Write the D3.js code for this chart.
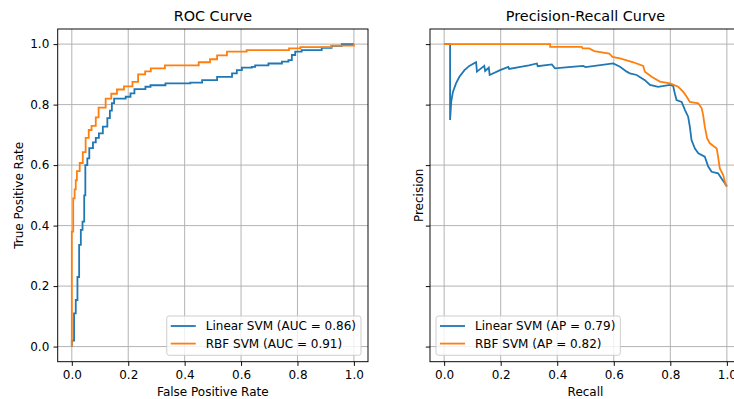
<!DOCTYPE html>
<html>
<head>
<meta charset="utf-8">
<script src="https://cdn.jsdelivr.net/npm/d3@7"></script>
<style>
  body { margin: 0; background: #fff; }
  svg { display: block; font-family: "DejaVu Sans", sans-serif; }
</style>
</head>
<body>
<svg id="chart" width="734" height="399"></svg>
<script>
// ROC corners (drawn as steps: up first, then right)
const rocLinearFpr = [0, 0.008, 0.014, 0.02, 0.026, 0.032, 0.038, 0.044, 0.048, 0.055, 0.062, 0.075, 0.085, 0.096, 0.11, 0.126, 0.135, 0.142, 0.15, 0.191, 0.208, 0.222, 0.261, 0.279, 0.332, 0.42, 0.462, 0.515, 0.568, 0.585, 0.603, 0.638, 0.65, 0.697, 0.745, 0.768, 0.78, 0.792, 0.815, 0.886, 0.921, 0.957, 1.0];
const rocLinearTpr = [0, 0.02, 0.11, 0.154, 0.23, 0.336, 0.386, 0.413, 0.5, 0.6, 0.622, 0.656, 0.675, 0.69, 0.705, 0.727, 0.755, 0.78, 0.805, 0.82, 0.826, 0.837, 0.851, 0.859, 0.864, 0.87, 0.873, 0.881, 0.892, 0.903, 0.914, 0.922, 0.925, 0.93, 0.936, 0.942, 0.947, 0.964, 0.975, 0.98, 0.988, 0.994, 1.0];
const rocRbfFpr = [0, 0.005, 0.01, 0.014, 0.018, 0.028, 0.039, 0.049, 0.06, 0.07, 0.085, 0.095, 0.12, 0.14, 0.16, 0.185, 0.215, 0.235, 0.26, 0.28, 0.33, 0.45, 0.49, 0.515, 0.55, 0.62, 0.77, 0.81, 0.92, 1.0, 1.0];
const rocRbfTpr = [0, 0.38, 0.49, 0.52, 0.55, 0.58, 0.607, 0.643, 0.69, 0.716, 0.73, 0.758, 0.79, 0.82, 0.836, 0.85, 0.86, 0.875, 0.9, 0.91, 0.92, 0.93, 0.94, 0.95, 0.963, 0.975, 0.98, 0.986, 0.99, 0.995, 1.0];

// precision-recall points
const prLinearRecall = [0, 0.021, 0.021, 0.025, 0.031, 0.042, 0.054, 0.072, 0.089, 0.113, 0.116, 0.142, 0.145, 0.158, 0.161, 0.198, 0.227, 0.23, 0.27, 0.3, 0.328, 0.331, 0.381, 0.392, 0.44, 0.492, 0.5, 0.598, 0.622, 0.646, 0.657, 0.681, 0.71, 0.728, 0.757, 0.799, 0.81, 0.816, 0.822, 0.84, 0.852, 0.863, 0.869, 0.875, 0.887, 0.899, 0.922, 0.934, 0.946, 0.969, 0.981, 0.993, 1.0];
const prLinearPrecision = [1, 1, 0.749, 0.809, 0.842, 0.87, 0.892, 0.914, 0.928, 0.94, 0.909, 0.928, 0.911, 0.922, 0.898, 0.914, 0.925, 0.918, 0.925, 0.93, 0.936, 0.927, 0.933, 0.92, 0.924, 0.928, 0.924, 0.936, 0.925, 0.909, 0.903, 0.898, 0.881, 0.865, 0.859, 0.865, 0.862, 0.837, 0.815, 0.809, 0.782, 0.76, 0.727, 0.683, 0.655, 0.639, 0.628, 0.595, 0.578, 0.573, 0.556, 0.54, 0.529];
const prRbfRecall = [0, 0.375, 0.375, 0.487, 0.49, 0.513, 0.531, 0.584, 0.595, 0.622, 0.669, 0.704, 0.71, 0.734, 0.763, 0.799, 0.828, 0.846, 0.858, 0.869, 0.899, 0.911, 0.916, 0.922, 0.93, 0.94, 0.964, 0.969, 0.975, 0.987, 0.996, 1.0];
const prRbfPrecision = [1, 1, 0.991, 0.991, 0.986, 0.986, 0.977, 0.969, 0.958, 0.953, 0.94, 0.928, 0.909, 0.892, 0.876, 0.87, 0.859, 0.842, 0.826, 0.809, 0.804, 0.788, 0.766, 0.727, 0.689, 0.672, 0.655, 0.628, 0.589, 0.567, 0.534, 0.53];

const ticks = [0, 0.2, 0.4, 0.6, 0.8, 1.0];
const rocLabels = ["Linear SVM (AUC = 0.86)", "RBF SVM (AUC = 0.91)"];
const prLabels = ["Linear SVM (AP = 0.79)", "RBF SVM (AP = 0.82)"];
const colors = ["#1f77b4", "#ff7f0e"];

const svg = d3.select("#chart");
const plotTop = 29, plotBottom = 361.7;
const fs = 12;
const y = d3.scaleLinear().domain([-0.05, 1.05]).range([plotBottom, plotTop]);

const zip = (a, b) => a.map((v, i) => [v, b[i]]);

const panels = [
  {
    left: 57.7, right: 368, title: "ROC Curve",
    xlabel: "False Positive Rate", ylabel: "True Positive Rate", ylabelX: 23,
    yTickLabels: true, curve: d3.curveStepBefore,
    series: [zip(rocLinearFpr, rocLinearTpr), zip(rocRbfFpr, rocRbfTpr)],
    labels: rocLabels, legendSide: "right"
  },
  {
    left: 430, right: 741, title: "Precision-Recall Curve",
    xlabel: "Recall", ylabel: "Precision", ylabelX: 423,
    yTickLabels: false, curve: d3.curveLinear,
    series: [zip(prLinearRecall, prLinearPrecision), zip(prRbfRecall, prRbfPrecision)],
    labels: prLabels, legendSide: "left"
  }
];

panels.forEach(p => {
  const x = d3.scaleLinear().domain([-0.05, 1.05]).range([p.left, p.right]);
  const g = svg.append("g");

  // grid
  g.append("g").selectAll("line").data(ticks).enter().append("line")
    .attr("x1", d => x(d)).attr("x2", d => x(d)).attr("y1", plotTop).attr("y2", plotBottom)
    .attr("stroke", "#b0b0b0").attr("stroke-width", 0.96);
  g.append("g").selectAll("line").data(ticks).enter().append("line")
    .attr("x1", p.left).attr("x2", p.right).attr("y1", d => y(d)).attr("y2", d => y(d))
    .attr("stroke", "#b0b0b0").attr("stroke-width", 0.96);

  // curves
  const line = d3.line().x(d => x(d[0])).y(d => y(d[1])).curve(p.curve);
  p.series.forEach((s, i) => {
    g.append("path").attr("d", line(s))
      .attr("fill", "none").attr("stroke", colors[i]).attr("stroke-width", 1.8);
  });

  // axes
  const xAxis = g.append("g").attr("transform", `translate(0,${plotBottom})`)
    .call(d3.axisBottom(x).tickValues(ticks).tickSize(4.2).tickPadding(4.2).tickSizeOuter(0).tickFormat(d3.format(".1f")));
  const yAxis = g.append("g").attr("transform", `translate(${p.left},0)`)
    .call(d3.axisLeft(y).tickValues(ticks).tickSize(4.2).tickPadding(4.2).tickSizeOuter(0)
      .tickFormat(p.yTickLabels ? d3.format(".1f") : ""));
  [xAxis, yAxis].forEach(a => {
    a.select(".domain").remove();
    a.selectAll("line").attr("stroke", "#000").attr("stroke-width", 0.96);
    a.selectAll("text").attr("fill", "#000").style("font-size", fs + "px")
      .style("font-family", "'DejaVu Sans', sans-serif");
  });

  // spines
  g.append("rect").attr("x", p.left).attr("y", plotTop)
    .attr("width", p.right - p.left).attr("height", plotBottom - plotTop)
    .attr("fill", "none").attr("stroke", "#000").attr("stroke-width", 0.96);

  // title and labels
  g.append("text").attr("x", (p.left + p.right) / 2).attr("y", 21)
    .attr("text-anchor", "middle").style("font-size", "14.4px").text(p.title);
  g.append("text").attr("x", (p.left + p.right) / 2).attr("y", 396)
    .attr("text-anchor", "middle").style("font-size", fs + "px").text(p.xlabel);
  g.append("text").attr("transform", `translate(${p.ylabelX},${(plotTop + plotBottom) / 2}) rotate(-90)`)
    .attr("text-anchor", "middle").style("font-size", fs + "px").text(p.ylabel);

  // legend
  const lg = g.append("g");
  const box = lg.append("rect");
  const texts = p.labels.map((t, i) => lg.append("text")
    .attr("x", 39).attr("y", 10 + i * 17.6).attr("dy", "0.35em")
    .style("font-size", fs + "px").text(t));
  const tw = d3.max(texts, t => t.node().getComputedTextLength());
  const w = 39 + tw + 5, h = 39.3;
  p.labels.forEach((t, i) => {
    lg.append("line").attr("x1", 4).attr("x2", 29).attr("y1", 10 + i * 17.6).attr("y2", 10 + i * 17.6)
      .attr("stroke", colors[i]).attr("stroke-width", 1.8);
  });
  box.attr("width", w).attr("height", h).attr("rx", 2.4)
    .attr("fill", "#fff").attr("fill-opacity", 0.8)
    .attr("stroke", "#cccccc").attr("stroke-width", 0.96);
  const lx = p.legendSide === "right" ? p.right - 7 - w : p.left + 6;
  lg.attr("transform", `translate(${lx},${plotBottom - 6.4 - h})`);
});
</script>
</body>
</html>
